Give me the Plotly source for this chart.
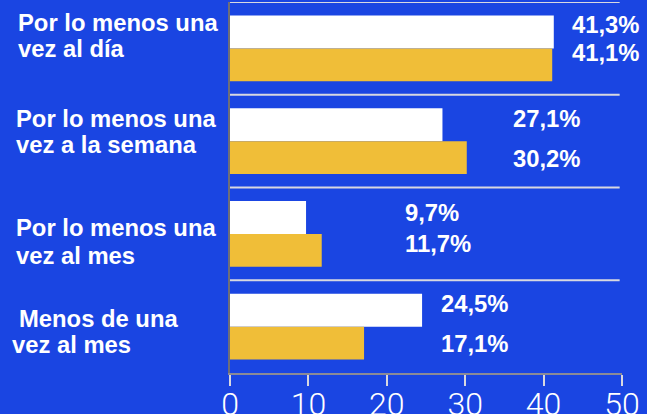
import plotly.graph_objects as go

# Survey frequency categories (top to bottom), one entry per text line
categories = [
    ["Por lo menos una", "vez al día"],
    ["Por lo menos una", "vez a la semana"],
    ["Por lo menos una", "vez al mes"],
    ["Menos de una", "vez al mes"],
]
series_white = [41.3, 27.1, 9.7, 24.5]
series_gold = [41.1, 30.2, 11.7, 17.1]
tick_values = [0, 10, 20, 30, 40, 50]

BG = "#1a45e2"
GOLD = "#f0be38"
W, H = 647, 414
M_L, M_R, M_T, M_B = 230, 25, 2, 41
PLOT_H = H - M_T - M_B
FONT = "Liberation Sans"
FSIZE = 23.8


def py(pixel_y):
    """Convert a pixel row to paper y."""
    return (H - M_B - pixel_y) / PLOT_H


def px(pixel_x):
    """Convert a pixel column to paper x."""
    return (pixel_x - M_L) / (W - M_L - M_R)


def pct(v):
    return f"{v:.1f}".replace(".", ",") + "%"


n = len(categories)
fig = go.Figure()
fig.add_trace(go.Bar(y=list(range(n)), x=series_white, orientation="h",
                     marker=dict(color="#ffffff", line=dict(width=0)), name="A"))
fig.add_trace(go.Bar(y=list(range(n)), x=series_gold, orientation="h",
                     marker=dict(color=GOLD, line=dict(width=0)), name="B"))

annotations = []
# category labels (left text column), two lines each
cat_label_x = [[18, 18], [16, 16], [16, 16], [19, 12]]
cat_label_y = [[22, 49], [119, 145], [228, 255], [318, 344]]
for i, lines in enumerate(categories):
    for j, line in enumerate(lines):
        annotations.append(dict(
            text=f"<b>{line}</b>", xref="paper", yref="paper",
            x=px(cat_label_x[i][j] - 2), y=py(cat_label_y[i][j]),
            xanchor="left", yanchor="middle", align="left", showarrow=False,
            font=dict(family=FONT, size=FSIZE, color="#ffffff"),
        ))

# value labels
val_label_x = [572, 513, 405, 441]
val_label_y_white = [24, 119, 212, 303]
val_label_y_gold = [53, 158, 243, 343]
for i in range(n):
    for v, yy in ((series_white[i], val_label_y_white[i]), (series_gold[i], val_label_y_gold[i])):
        annotations.append(dict(
            text=f"<b>{pct(v)}</b>", xref="paper", yref="paper",
            x=px(val_label_x[i] - 2), y=py(yy), xanchor="left", yanchor="middle",
            showarrow=False,
            font=dict(family=FONT, size=FSIZE, color="#ffffff"),
        ))

# separators between category bands
shapes = []
for b in [-0.5, 0.5, 1.5, 2.5]:
    shapes.append(dict(type="line", xref="x", yref="y", x0=0, x1=49.7, y0=b, y1=b,
                       line=dict(color="#d8d8e0", width=2), layer="above"))

fig.update_layout(
    width=W, height=H,
    margin=dict(l=M_L, r=M_R, t=M_T, b=M_B, pad=0, autoexpand=False),
    paper_bgcolor=BG, plot_bgcolor=BG,
    barmode="group", bargap=0.29, bargroupgap=0,
    showlegend=False,
    annotations=annotations, shapes=shapes,
)
fig.update_xaxes(
    range=[0, 50], tickvals=tick_values, ticktext=[str(t) for t in tick_values],
    showgrid=False, zeroline=False, automargin=False,
    showline=True, linecolor="#8a8a96", linewidth=2,
    ticks="outside", ticklen=11, tickwidth=2, tickcolor="#d8d8e0",
    tickfont=dict(family="Roboto", size=32, color="#ffffff", weight=300),
    ticklabelstandoff=-9,
)
fig.update_yaxes(
    range=[3.5, -0.5], showticklabels=False, showgrid=False, zeroline=False,
    automargin=False,
    showline=True, linecolor="#6e6e78", linewidth=2, ticks="",
)

fig.write_html("out.html")
